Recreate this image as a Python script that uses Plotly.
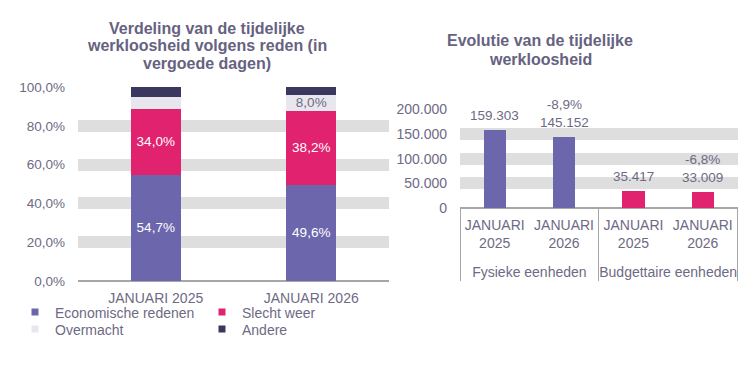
import plotly.graph_objects as go

# ---- Left chart data (share in % of compensated days) ----
periods = ["JANUARI 2025", "JANUARI 2026"]
economische = [54.7, 49.6]
slecht_weer = [34.0, 38.2]
overmacht = [6.3, 8.0]
andere = [5.0, 4.2]

# ---- Right chart data ----
groups = ["Fysieke eenheden", "Fysieke eenheden", "Budgettaire eenheden", "Budgettaire eenheden"]
months = ["JANUARI<br>2025", "JANUARI<br>2026", "JANUARI<br>2025", "JANUARI<br>2026"]
eenheden = [159303, 145152, 35417, 33009]

title_left = ["Verdeling van de tijdelijke", "werkloosheid volgens reden (in", "vergoede dagen)"]
title_right = ["Evolutie van de tijdelijke", "werkloosheid"]

C_ECON = "#6C67AD"
C_SLECHT = "#E0226F"
C_OVER = "#E8E7EE"
C_ANDERE = "#3B385F"
C_TEXT = "#6E6A84"
C_TITLE = "#66627F"
C_BAND = "#DEDEDE"
C_AXIS = "#A6A6A6"
FONT = "Liberation Sans, Arial, sans-serif"

# the page body has an 8px margin: the figure is placed 8px right/down
OFF = 8
W = 755 - OFF
H = 367 - OFF


def px(x):
    return (x - OFF) / W


def py(y):
    return 1 - (y - OFF) / H


def pct(v):
    return f"{v:.1f}".replace(".", ",") + "%"


def thousands(v):
    return f"{v:,}".replace(",", ".")


fig = go.Figure()

series = [
    ("Economische redenen", economische, C_ECON, "white", lambda v: True, "legend"),
    ("Slecht weer", slecht_weer, C_SLECHT, "white", lambda v: True, "legend"),
    ("Overmacht", overmacht, C_OVER, C_TEXT, lambda v: v >= 7.5, "legend2"),
    ("Andere", andere, C_ANDERE, "white", lambda v: False, "legend2"),
]
for name, vals, col, tcol, show, lg in series:
    fig.add_trace(go.Bar(
        x=periods, y=vals, name=name, marker_color=col, marker_line_width=0,
        text=[pct(v) if show(v) else "" for v in vals],
        textposition="inside", insidetextanchor="middle", constraintext="none",
        textfont=dict(color=tcol, size=13.5, family=FONT),
        showlegend=False, xaxis="x", yaxis="y", hoverinfo="skip",
    ))
    # legend entry with small square symbol
    fig.add_trace(go.Scatter(
        x=[None], y=[None], mode="markers", name=name,
        marker=dict(symbol="square", size=7, color=col),
        legend=lg, xaxis="x", yaxis="y", hoverinfo="skip",
    ))

# inner category labels get an empty trailing line so the group labels sit lower
inner_labels = [m + "<br>\u00a0" for m in months]

fig.add_trace(go.Bar(
    x=[groups, inner_labels], y=eenheden,
    marker_color=[C_ECON, C_ECON, C_SLECHT, C_SLECHT], marker_line_width=0,
    showlegend=False, xaxis="x2", yaxis="y2", hoverinfo="skip",
))

annotations = []
# value labels above the right-hand bars (with change vs previous period)
for i, v in enumerate(eenheden):
    if i % 2 == 1:
        ch = (v - eenheden[i - 1]) / eenheden[i - 1] * 100
        txt = pct(ch) + "<br>" + thousands(v)
    else:
        txt = thousands(v)
    annotations.append(dict(
        text=txt, x=i, y=v, xref="x2", yref="y2", xanchor="center",
        yanchor="bottom", yshift=5, showarrow=False,
        font=dict(size=13.5, color=C_TEXT, family=FONT)))

# titles, one line per annotation to mimic tighter line spacing
for k, line in enumerate(title_left):
    annotations.append(dict(
        text=f"<b>{line}</b>", x=px(207), y=py(28 + 17.5 * k), xref="paper", yref="paper",
        xanchor="center", yanchor="middle", showarrow=False,
        font=dict(size=16, color=C_TITLE, family=FONT)))
for k, line in enumerate(title_right):
    annotations.append(dict(
        text=f"<b>{line}</b>", x=px(540), y=py(41 + 18.3 * k), xref="paper", yref="paper",
        xanchor="center", yanchor="middle", showarrow=False,
        font=dict(size=16, color=C_TITLE, family=FONT)))

legend_common = dict(orientation="h", xanchor="left", yanchor="middle",
                     entrywidth=142, entrywidthmode="pixels", traceorder="normal",
                     font=dict(size=14, color=C_TEXT), itemwidth=30,
                     bgcolor="rgba(0,0,0,0)")

fig.update_layout(
    width=W, height=H,
    margin=dict(l=0, r=0, t=0, b=0, autoexpand=False),
    paper_bgcolor="white", plot_bgcolor="white",
    barmode="stack", bargap=0.68,
    separators=",.",
    font=dict(family=FONT, size=13, color=C_TEXT),
    xaxis=dict(domain=[px(78), px(389)], anchor="y", showgrid=False, automargin=False,
               showline=False, ticks="", tickfont=dict(size=14, color=C_TEXT),
               ticklabelstandoff=7),
    yaxis=dict(domain=[py(281), py(87)], anchor="x", range=[0, 100],
               dtick=20, tickformat=".1f", ticksuffix="%", automargin=False,
               showgrid=True, gridcolor=C_BAND, gridwidth=12,
               zeroline=True, zerolinecolor=C_AXIS, zerolinewidth=1.5,
               showline=False, ticks="", ticklabelstandoff=12,
               tickfont=dict(size=13.5, color=C_TEXT)),
    xaxis2=dict(domain=[px(460), px(737.5)], anchor="y2", showgrid=False, automargin=False,
                showline=False, ticks="", showdividers=True,
                dividercolor=C_AXIS, dividerwidth=1, ticklabelstandoff=7,
                tickfont=dict(size=14, color=C_TEXT)),
    yaxis2=dict(domain=[py(208), py(109.5)], anchor="x2", automargin=False,
                range=[0, 200000], dtick=50000, tickformat=",d",
                showgrid=True, gridcolor=C_BAND, gridwidth=12,
                zeroline=True, zerolinecolor=C_AXIS, zerolinewidth=1.5,
                showline=False, ticks="", ticklabelstandoff=12,
                tickfont=dict(size=14, color=C_TEXT)),
    legend=dict(x=px(15), y=py(312.5), **legend_common),
    legend2=dict(x=px(15), y=py(329.5), **legend_common),
    annotations=annotations,
)

fig.write_html("out.html")
